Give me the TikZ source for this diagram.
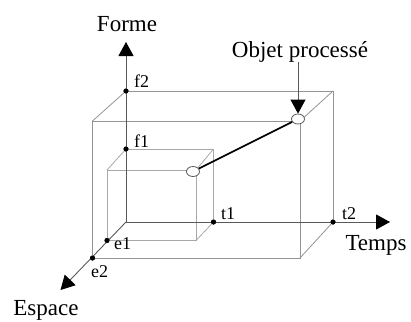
\documentclass[tikz,border=0pt]{standalone}
\usepackage{fontspec}
\setmainfont{Liberation Serif}
\usetikzlibrary{arrows.meta,shapes.geometric}
\definecolor{boxgray}{gray}{0.58}
\definecolor{smallgray}{gray}{0.66}
\definecolor{axisgray}{gray}{0.35}
\tikzset{
  boxline/.style={draw=boxgray, line width=0.8pt},
  smallline/.style={draw=smallgray, line width=0.8pt},
  axisline/.style={draw=axisgray, line width=0.9pt, -{Triangle[length=14pt,width=15pt,color=black]}},
  dotmark/.style={circle, fill=black, inner sep=0pt, minimum size=5pt},
  bigtext/.style={font=\fontsize{23}{26}\selectfont, inner sep=0pt, anchor=base},
  smalltext/.style={font=\fontsize{18}{20}\selectfont, inner sep=0pt, anchor=base west},
  objcircle/.style={ellipse, draw=axisgray, fill=white, line width=0.8pt, inner sep=0pt, minimum width=13pt, minimum height=10pt}
}
\begin{document}
\begin{tikzpicture}[x=1pt,y=-1pt]
\useasboundingbox (0,0) rectangle (411,321);
% corners
\coordinate (O) at (126,222);
\coordinate (B1) at (333,91);
\coordinate (F1) at (92.5,121);
\coordinate (F2) at (300,121);
\coordinate (F3) at (300,258);
\coordinate (S1) at (213.5,149);
\coordinate (s0) at (107,170);
\coordinate (s1) at (196,170);
\coordinate (s2) at (196,240.5);
\coordinate (Fo) at (126,42);
\coordinate (Te) at (390,222);
\coordinate (Es) at (60.5,290);
% dots
\node[dotmark] (f2) at (126,91) {};
\node[dotmark] (f1) at (126,149) {};
\node[dotmark] (t1) at (213.5,222) {};
\node[dotmark] (t2) at (333,222) {};
\node[dotmark] (e1) at (107,240.5) {};
\node[dotmark] (e2) at (92.5,258) {};
% big box
\draw[boxline] (f2.center) -- (B1) -- (t2.center);
\draw[boxline] (F1) -- (F2) -- (F3) -- (e2.center) -- cycle;
\draw[boxline] (f2.center) -- (F1);
\draw[boxline] (B1) -- (F2);
\draw[boxline] (t2.center) -- (F3);
% small box
\draw[smallline] (f1.center) -- (S1) -- (t1.center);
\draw[smallline] (s0) -- (s1) -- (s2) -- (e1.center) -- cycle;
\draw[smallline] (f1.center) -- (s0);
\draw[smallline] (S1) -- (s1);
\draw[smallline] (t1.center) -- (s2);
% axes
\draw[axisline] (O) -- (Fo);
\draw[axisline] (O) -- (Te);
\draw[axisline] (O) -- (Es);
% redraw dots on top
\foreach \d in {f2,f1,t1,t2,e1,e2} \fill (\d.center) circle (2.5pt);
% object
\node[objcircle] (c1) at (193,171.5) {};
\node[objcircle] (c2) at (298,119) {};
\draw[line width=1.6pt] (c1) -- (c2);
% labels
\node[bigtext] (forme) at (127,31) {Forme};
\node[bigtext] (obj) at (300,57) {Objet processé};
\node[bigtext] (temps) at (376,250) {Temps};
\node[bigtext] (espace) at (46,315) {Espace};
\node[smalltext] (lf2) at (134,87) {f2};
\node[smalltext] (lf1) at (134,147) {f1};
\node[smalltext] (lt1) at (221,219) {t1};
\node[smalltext] (lt2) at (342,219) {t2};
\node[smalltext] (le1) at (114,249) {e1};
\node[smalltext] (le2) at (91,277) {e2};
\draw[axisline] (obj.south -| c2.north) -- (c2.north);
\end{tikzpicture}
\end{document}
